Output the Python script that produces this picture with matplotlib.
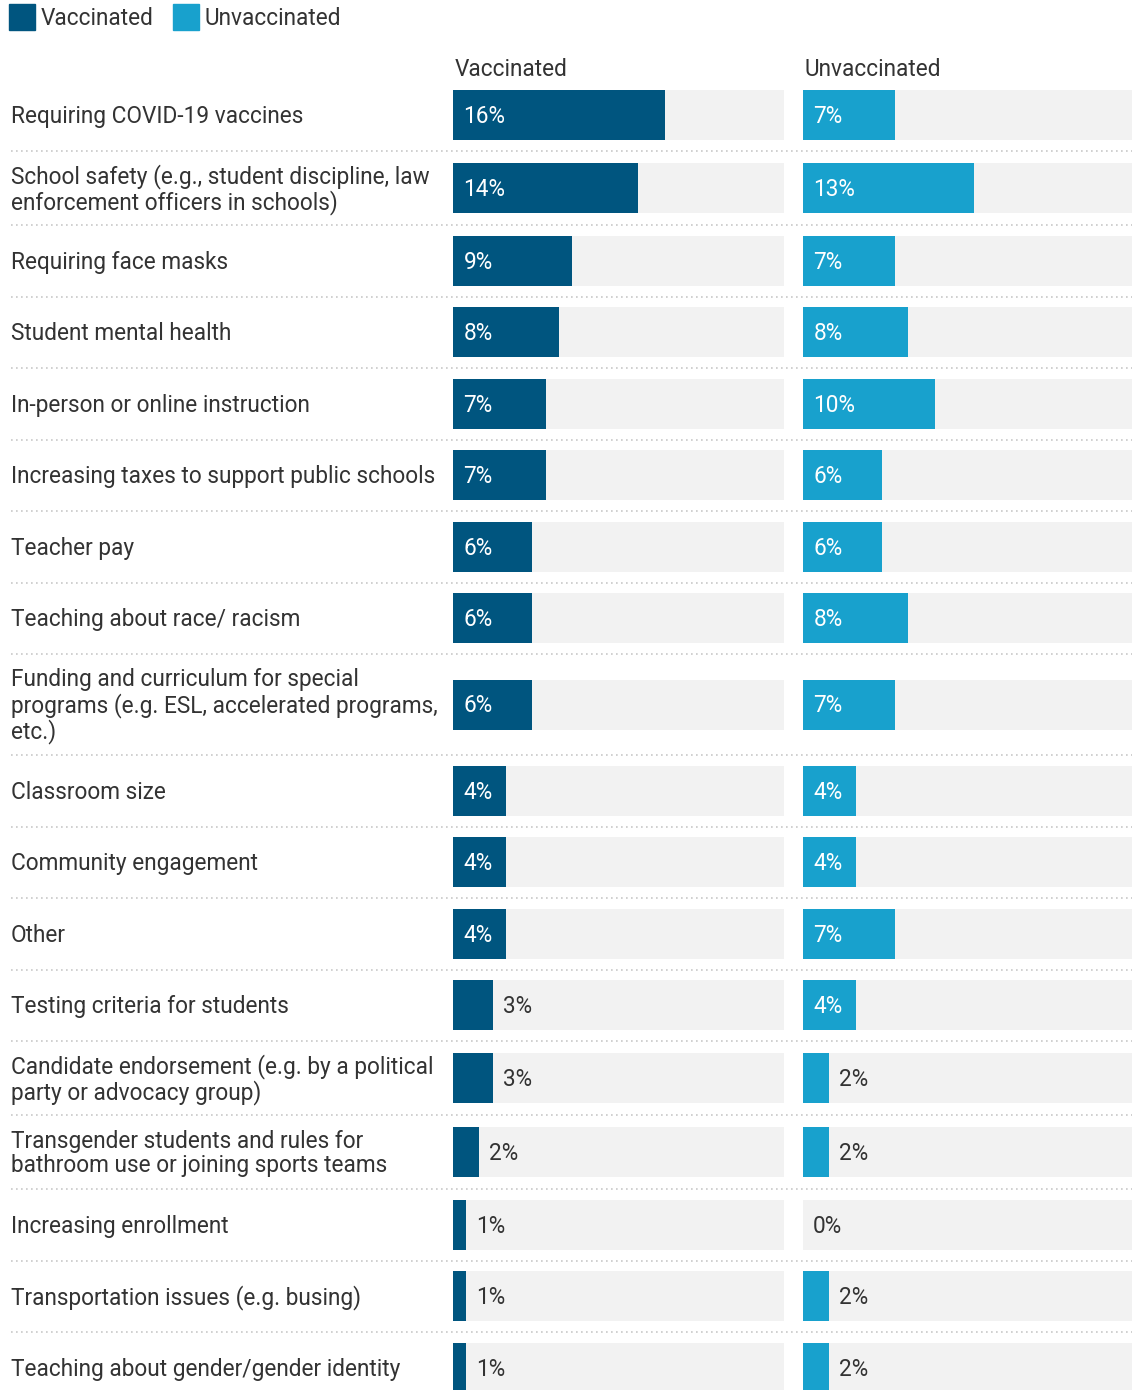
import matplotlib.pyplot as plt
import numpy as np

plt.rcParams['font.family'] = ['Roboto', 'DejaVu Sans']

# Data
issues = [
    "Requiring COVID-19 vaccines",
    "School safety (e.g., student discipline, law\nenforcement officers in schools)",
    "Requiring face masks",
    "Student mental health",
    "In-person or online instruction",
    "Increasing taxes to support public schools",
    "Teacher pay",
    "Teaching about race/ racism",
    "Funding and curriculum for special\nprograms (e.g. ESL, accelerated programs,\netc.)",
    "Classroom size",
    "Community engagement",
    "Other",
    "Testing criteria for students",
    "Candidate endorsement (e.g. by a political\nparty or advocacy group)",
    "Transgender students and rules for\nbathroom use or joining sports teams",
    "Increasing enrollment",
    "Transportation issues (e.g. busing)",
    "Teaching about gender/gender identity",
]
vaccinated = [16, 14, 9, 8, 7, 7, 6, 6, 6, 4, 4, 4, 3, 3, 2, 1, 1, 1]
unvaccinated = [7, 13, 7, 8, 10, 6, 6, 8, 7, 4, 4, 7, 4, 2, 2, 0, 2, 2]
series_names = ["Vaccinated", "Unvaccinated"]

DARK = "#00557f"
LIGHT = "#18a1cd"
BG = "#f2f2f2"
TXT = "#333333"
XMAX = 25
FS = 16.3

W, H = 1132, 1390
fig = plt.figure(figsize=(W / 100, H / 100), dpi=100)

# row layout (pixel units, top-down)
heights = []
for s in issues:
    n = s.count("\n") + 1
    heights.append({1: 71.5, 2: 74, 3: 101}[n])
top = 79.5
edges = top + np.concatenate([[0], np.cumsum(heights)])
centers = (edges[:-1] + edges[1:]) / 2

# background axes for labels and separators
bg = fig.add_axes([0, 0, 1, 1])
bg.set_xlim(0, W)
bg.set_ylim(H, 0)
bg.axis("off")

for yy in edges[1:-1]:
    bg.plot([11, W], [yy, yy], color="#c8c8c8", lw=1.2, ls=(0, (1, 2)))

for c, s in zip(centers, issues):
    bg.text(11, c + 1.5, s, fontsize=FS, color=TXT, va="center", ha="left", linespacing=1.09)

# legend
bg.add_patch(plt.Rectangle((9, 4), 26, 26, color=DARK))
bg.text(41, 18.5, series_names[0], fontsize=FS, color=TXT, va="center")
bg.add_patch(plt.Rectangle((173, 4), 26, 26, color=LIGHT))
bg.text(205, 18.5, series_names[1], fontsize=FS, color=TXT, va="center")


def panel(x0, x1, vals, color, name):
    ax = fig.add_axes([x0 / W, 0, (x1 - x0) / W, 1])
    ax.set_xlim(0, XMAX)
    ax.set_ylim(H, 0)
    ax.axis("off")
    ax.barh(centers, [XMAX] * len(vals), height=50, color=BG)
    ax.barh(centers, vals, height=50, color=color)
    px = XMAX / (x1 - x0)
    for c, v in zip(centers, vals):
        if v >= 4:
            ax.text(10.5 * px, c + 1.5, f"{v}%", fontsize=FS, color="white", va="center")
        else:
            ax.text(v + 10 * px, c + 1.5, f"{v}%", fontsize=FS, color=TXT, va="center")
    ax.text(1.5 * px, 69.5, name, fontsize=FS, color=TXT, va="center")
    return ax


panel(453, 784, vaccinated, DARK, series_names[0])
panel(803, 1132, unvaccinated, LIGHT, series_names[1])

fig.savefig("out.png", dpi=100, facecolor="white")
